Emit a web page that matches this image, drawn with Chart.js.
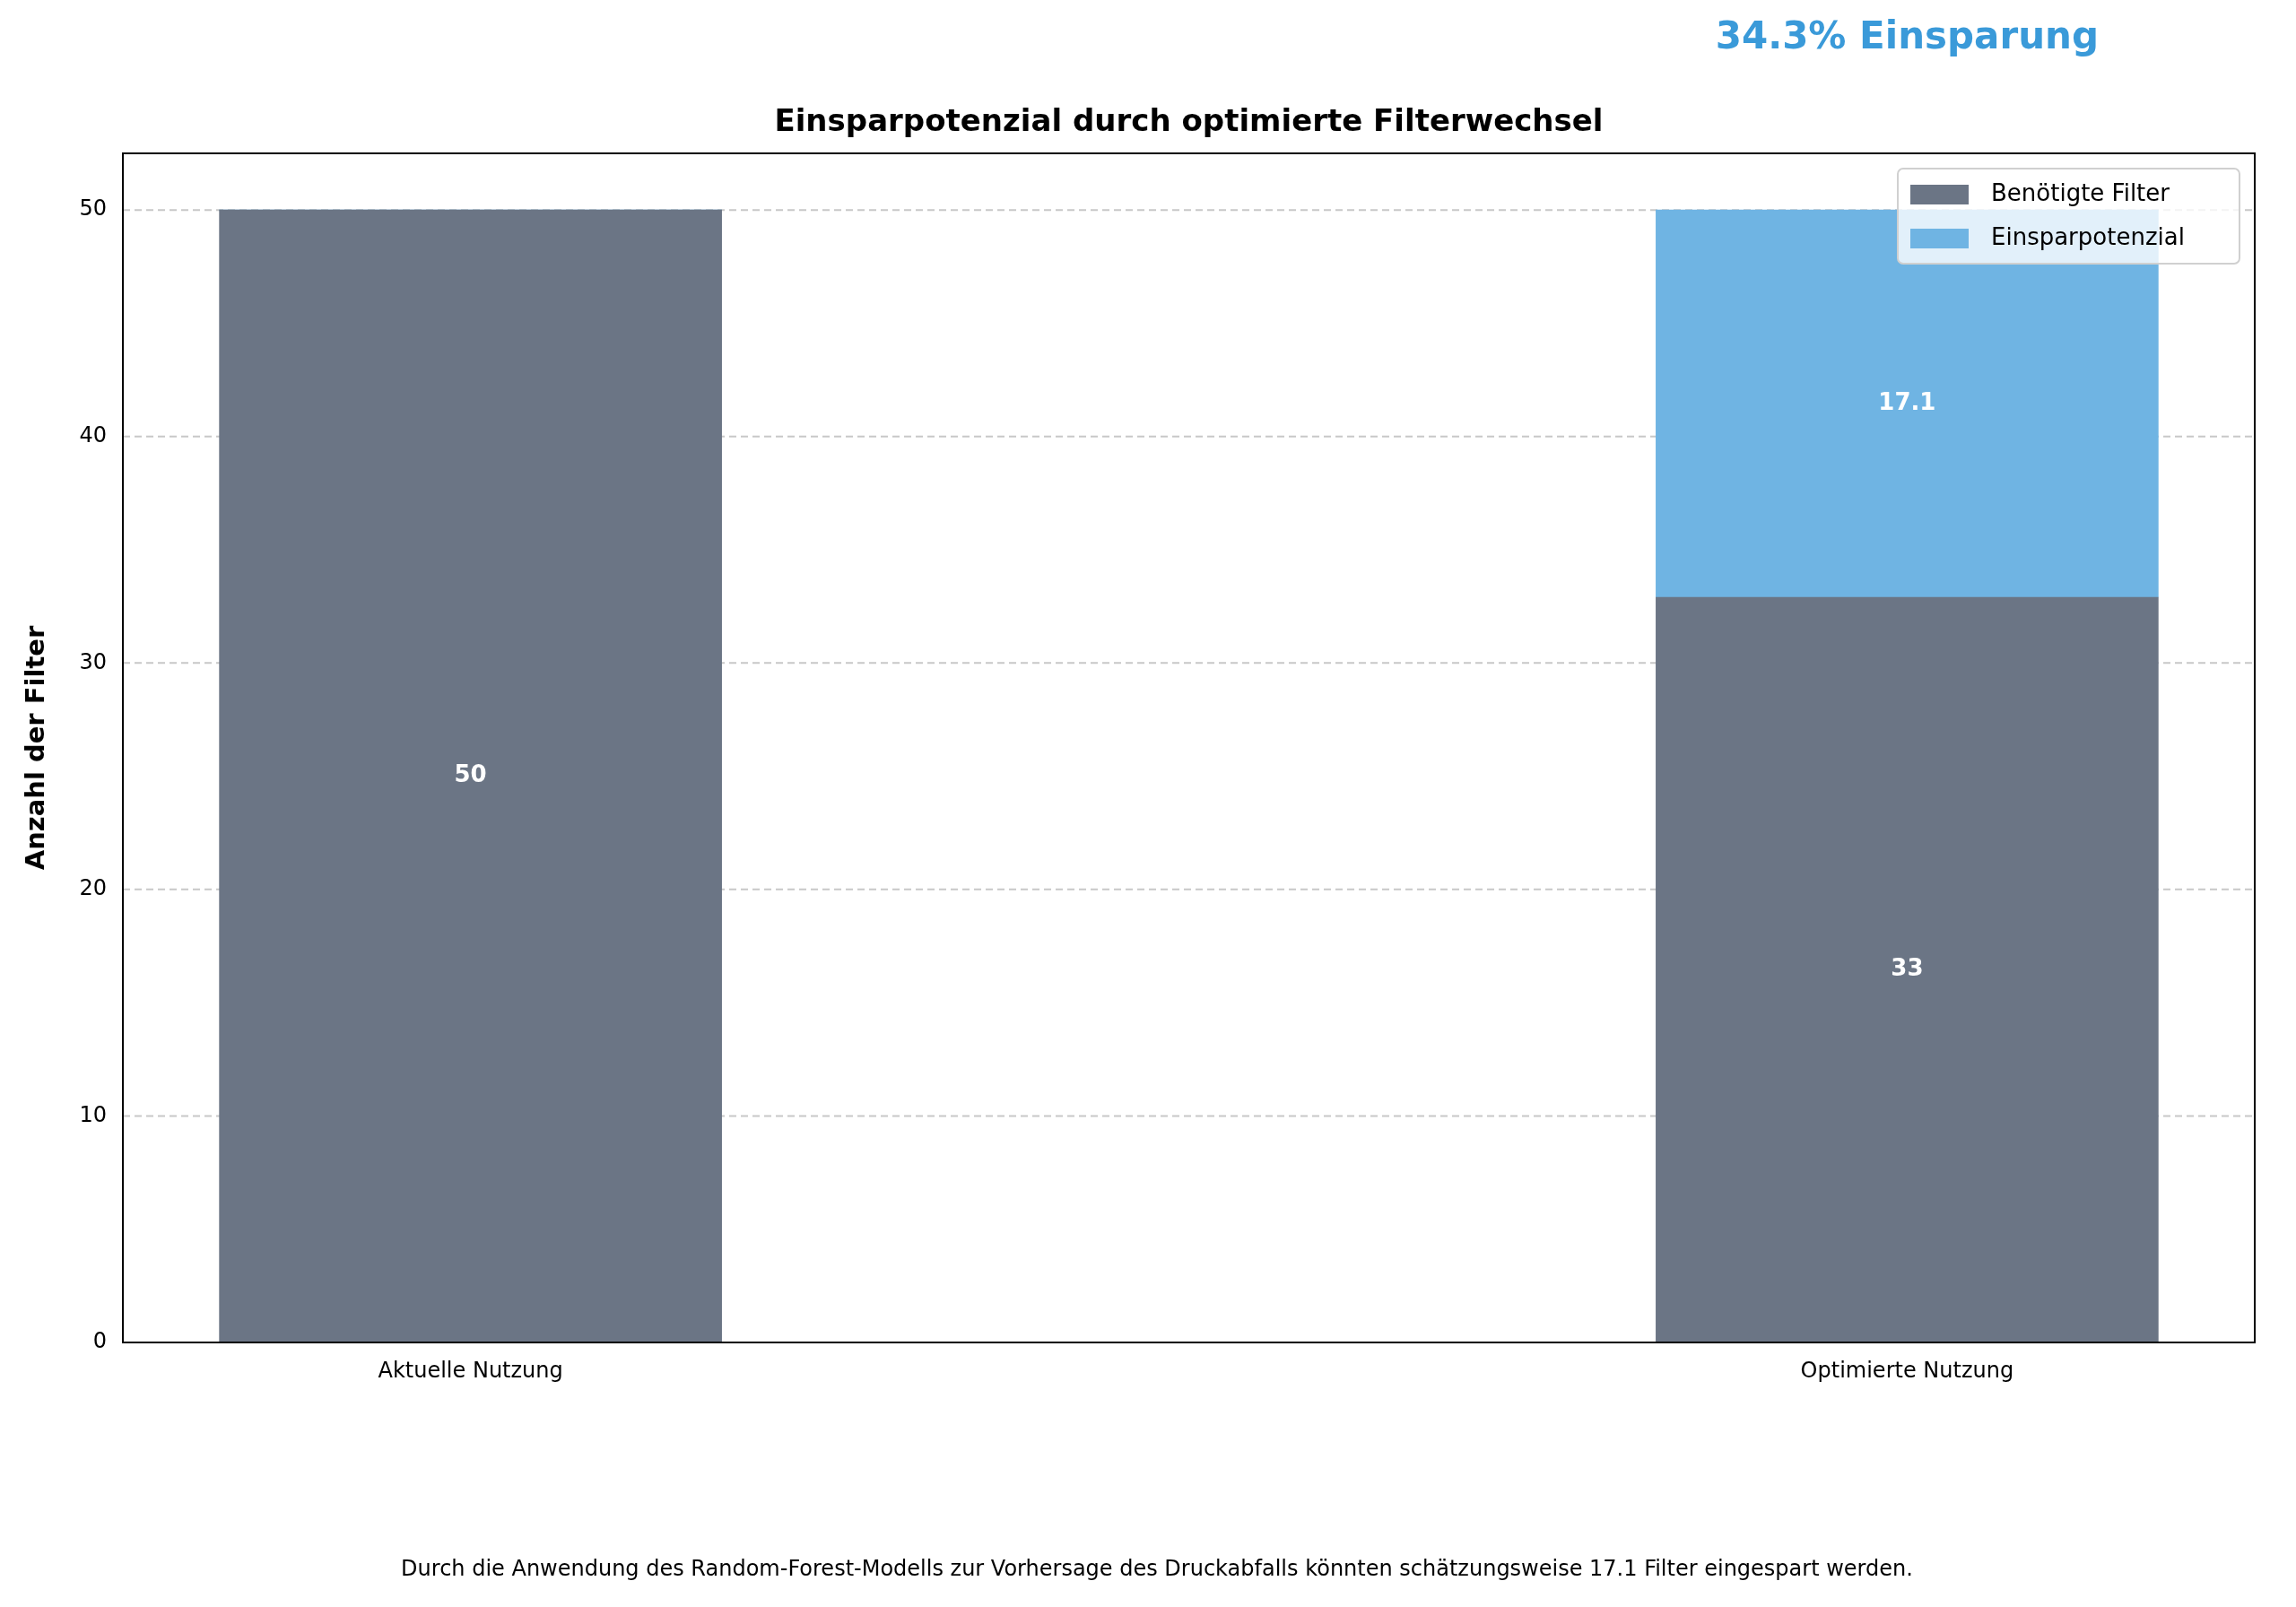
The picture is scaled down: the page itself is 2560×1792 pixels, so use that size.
<!DOCTYPE html>
<html><head><meta charset="utf-8">
<script src="https://cdn.jsdelivr.net/npm/chart.js@4.4.0/dist/chart.umd.min.js"></script>
<style>html,body{margin:0;padding:0;background:#fff}canvas{display:block}</style>
</head><body>
<div style="width:2560px;height:1792px"><canvas id="c"></canvas></div>
<script>
const categories = ["Aktuelle Nutzung", "Optimierte Nutzung"];
const needed = [50, 32.9];
const savings = [0, 17.1];
const neededLabels = ["50", "33"];
const savingsLabels = ["", "17.1"];
const yTicks = [0, 10, 20, 30, 40, 50];
const titleText = "Einsparpotenzial durch optimierte Filterwechsel";
const headline = "34.3% Einsparung";
const footer = "Durch die Anwendung des Random-Forest-Modells zur Vorhersage des Druckabfalls könnten schätzungsweise 17.1 Filter eingespart werden.";
const GRAY = "#6b7585", BLUE = "#6fb4e3";
const FONT = "'DejaVu Sans', sans-serif";

const deco = {
  id: 'deco',
  beforeDatasetsDraw(chart) {
    const {ctx, chartArea: a, scales: {y}} = chart;
    ctx.save();
    ctx.strokeStyle = '#c8c8c8'; ctx.lineWidth = 2; ctx.setLineDash([8, 5]);
    yTicks.forEach(v => { const py = y.getPixelForValue(v); ctx.beginPath(); ctx.moveTo(a.left, py); ctx.lineTo(a.right, py); ctx.stroke(); });
    ctx.restore();
  },
  afterDraw(chart) {
    const {ctx, chartArea: a, scales: {x, y}} = chart;
    ctx.save();
    ctx.strokeStyle = '#000'; ctx.lineWidth = 2; ctx.strokeRect(a.left, a.top, a.right - a.left, a.bottom - a.top);
    ctx.textAlign = 'center'; ctx.textBaseline = 'middle';
    ctx.fillStyle = '#000'; ctx.font = `bold 34px ${FONT}`;
    ctx.fillText(titleText, (a.left + a.right) / 2, 137);
    ctx.fillStyle = '#3a9ad9'; ctx.font = `bold 42px ${FONT}`;
    ctx.fillText(headline, x.getPixelForValue(1), 43);
    ctx.fillStyle = '#000'; ctx.font = `24px ${FONT}`;
    ctx.fillText(footer, 1290, 1751);
    ctx.save(); ctx.translate(41, (a.top + a.bottom) / 2); ctx.rotate(-Math.PI / 2);
    ctx.font = `bold 29px ${FONT}`; ctx.fillText("Anzahl der Filter", 0, 0); ctx.restore();
    // bar value labels
    ctx.fillStyle = '#fff'; ctx.font = `bold 26px ${FONT}`;
    categories.forEach((c, i) => {
      const px = x.getPixelForValue(i);
      ctx.fillText(neededLabels[i], px, y.getPixelForValue(needed[i] / 2));
      if (savings[i] > 0) ctx.fillText(savingsLabels[i], px, y.getPixelForValue(needed[i] + savings[i] / 2));
    });
    // legend
    const lx = 2116, ly = 188, lw = 381, lh = 106;
    ctx.fillStyle = 'rgba(255,255,255,0.8)'; ctx.strokeStyle = '#d0d0d0'; ctx.lineWidth = 2; ctx.setLineDash([]);
    ctx.beginPath(); ctx.roundRect(lx, ly, lw, lh, 6); ctx.fill(); ctx.stroke();
    ctx.textAlign = 'left'; ctx.font = `26px ${FONT}`;
    chart.data.datasets.forEach((d, i) => {
      const cy = ly + 28 + i * 49;
      ctx.fillStyle = d.backgroundColor; ctx.fillRect(lx + 14, cy - 10, 65, 22);
      ctx.fillStyle = '#000'; ctx.fillText(d.label, lx + 104, cy + 1);
    });
    ctx.restore();
  }
};

new Chart(document.getElementById('c'), {
  type: 'bar',
  data: {
    datasets: [
      {label: 'Benötigte Filter', data: needed.map((v, i) => ({x: i, y: v})), backgroundColor: GRAY, barThickness: 560},
      {label: 'Einsparpotenzial', data: savings.map((v, i) => ({x: i, y: v})), backgroundColor: BLUE, barThickness: 560}
    ]
  },
  options: {
    responsive: true, maintainAspectRatio: false, animation: false, devicePixelRatio: 1,
    layout: {padding: {left: 0, top: 171, right: 46, bottom: 0}},
    plugins: {legend: {display: false}, title: {display: false}, tooltip: {enabled: false}},
    scales: {
      x: {
        type: 'linear', stacked: true, min: -0.242, max: 1.242, offset: false,
        grid: {display: false, drawTicks: true},
        border: {display: false},
        afterBuildTicks: s => { s.ticks = categories.map((c, i) => ({value: i})); },
        ticks: {callback: (v) => categories[v], color: '#000', font: {size: 24, family: FONT}, padding: 10, maxRotation: 0},
        afterFit: s => { s.height = 295; }
      },
      y: {
        stacked: true, min: 0, max: 52.5,
        grid: {display: false},
        border: {display: false},
        afterBuildTicks: s => { s.ticks = yTicks.map(v => ({value: v})); },
        ticks: {color: '#000', font: {size: 24, family: FONT}, padding: 10},
        afterFit: s => { s.width = 137; }
      }
    }
  },
  plugins: [deco]
});
</script>
</body></html>
